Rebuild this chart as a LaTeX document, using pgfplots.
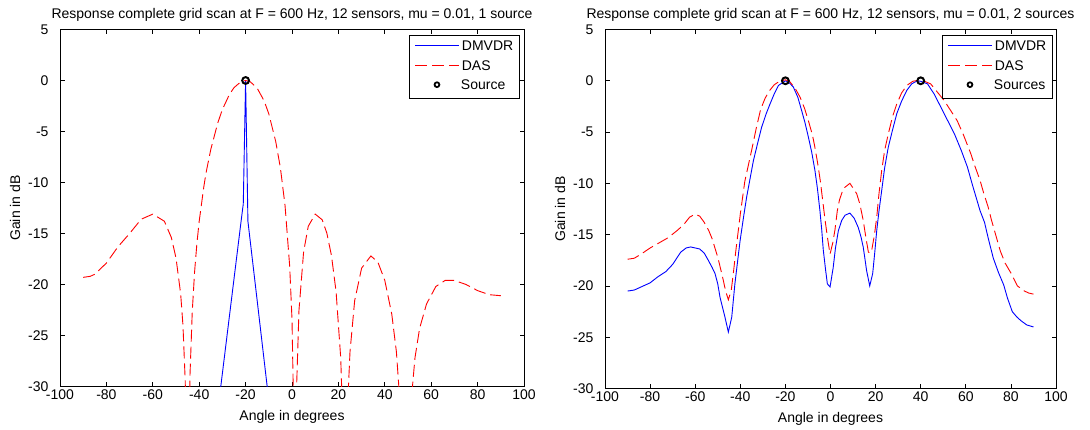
\documentclass[border=0pt]{standalone}
\usepackage{pgfplots}
\pgfplotsset{compat=1.18}
\usepackage{fontspec}
\setmainfont{Liberation Sans}
\newcommand{\fs}{\fontsize{14}{16.5}\selectfont}
\newcommand{\lgline}[2]{\tikz[baseline=-5pt]{\draw[#1] (0pt,0pt) -- (44pt,0pt);}\hspace{2pt}#2}
\newcommand{\lgmark}[1]{\tikz[baseline=-5pt]{\path (0pt,0pt) (44pt,0pt); \draw[black, line width=1.8pt] (22pt,0pt) circle (2.4pt);}\hspace{2pt}#1}

\pgfplotsset{
  matlab/.style={
    scale only axis,
    anchor=south west,
    xmin=-100,xmax=100,ymin=-30,ymax=5,
    xtick={-100,-80,...,100},
    ytick={-30,-25,...,5},
    tick align=inside,
    major tick length=4.5pt,
    axis line style={black, line width=0.7pt},
    every tick/.style={black, line width=0.7pt},
    tick label style={font=\fs, black},
    /pgf/number format/assume math mode=true,
    yticklabel style={xshift=-8pt},
    title style={font=\fs, yshift=-1pt},
    xlabel style={font=\fs, yshift=-4pt},
    ylabel style={font=\fs, yshift=1pt},
    xlabel={Angle in degrees},
    ylabel={Gain in dB},
    legend cell align=left,
    legend image code/.code={},
    legend style={at={(1,1)}, anchor=north east, yshift=-6pt,
      fill=white, font=\fs,
      inner xsep=4pt, inner ysep=2pt, row sep=0pt,
      nodes={inner xsep=1.5pt, inner ysep=3pt, text height=10pt, text depth=3.5pt}},
  },
  mvdr/.style={blue, line width=0.9pt, no marks},
  das/.style={red, line width=0.9pt, no marks, dash pattern=on 12pt off 5pt},
  src/.style={only marks, mark=o, mark size=3.4pt, black, mark options={line width=2pt, black}},
}

\pgfplotstableread{
x y
-33 -35.6
-30.7 -30
-26 -21.3
-22 -13.9
-21 -12.1
-20 0
-19 -13.8
-15 -21.6
-10.7 -30
-9 -33.3
}\lmvdr

\pgfplotstableread{
x y
-90 -19.3
-87 -19.2
-85 -19.0
-80 -17.9
-75 -16.3
-70 -15.0
-65 -13.6
-60 -13.1
-55 -13.8
-52 -15.4
-50 -17.4
-48 -20.9
-47 -24.0
-46 -29.6
-45 -60
-44 -29.1
-43 -22.7
-42 -18.8
-41 -16.0
-40 -13.8
-38 -10.4
-37 -9.0
-35 -6.75
-32 -4.16
-30 -2.84
-27 -1.38
-25 -0.70
-22 -0.12
-20 0
-18 -0.12
-15 -0.76
-12 -2.0
-10 -3.27
-7 -6.0
-5 -8.57
-3 -12.26
-1 -18.2
0 -23.4
1 -36.3
1.3 -60
2 -29.9
3 -22.55
5 -16.8
7 -14.3
10 -13.1
13 -13.65
15 -14.95
17 -17.15
19 -20.7
21 -27.2
22 -34.2
22.8 -60
24 -31.7
25 -26.6
27 -21.6
30 -18.4
34 -17.2
37 -17.8
40 -19.6
43 -22.9
45 -26.6
47 -33.1
48.9 -60
51 -32.4
53 -27.2
55 -24.3
58 -21.9
62 -20.2
66 -19.6
70 -19.6
75 -20.0
80 -20.6
85 -21.0
90 -21.1
}\ldas

\pgfplotstableread{
x y
-90 -20.5
-87 -20.4
-84 -20.1
-80 -19.7
-76.5 -19.1
-73 -18.6
-70 -17.9
-66.4 -16.7
-64 -16.3
-62 -16.2
-58 -16.4
-56 -16.8
-54.2 -17.5
-52.5 -18.2
-51.2 -18.8
-50 -19.8
-49 -21.1
-46.8 -23.05
-45.3 -24.5
-43.8 -23.05
-42.4 -19.8
-41.2 -17.6
-40.1 -15.6
-38.5 -13.2
-37.2 -11.35
-34.2 -7.8
-32 -5.8
-30.5 -4.5
-28.5 -3.2
-26.8 -2.25
-25 -1.3
-23.1 -0.46
-20 0.0
-18.3 -0.2
-16.5 -0.6
-14.5 -1.6
-12.8 -2.9
-11.3 -4.1
-9.8 -5.5
-8.3 -7.0
-6.9 -8.75
-5.8 -10.5
-4.7 -12.65
-3.9 -14.5
-3.2 -16.5
-2.2 -18.4
-1.4 -19.8
-0.2 -20.1
1.2 -18.2
2.2 -16.3
3.5 -14.6
5.0 -13.6
6.5 -13.1
8.6 -12.9
10.5 -13.4
12.3 -14.3
13.5 -15.2
14.5 -16.2
15.3 -17.4
16.0 -18.5
17.4 -20.0
18.7 -18.8
19.6 -16.8
20.5 -14.6
21.5 -12.7
22.7 -10.7
24 -8.5
25.6 -6.5
27.5 -4.8
29.4 -3.2
31.5 -2.0
33.8 -0.95
36 -0.3
38.5 0.0
40 -0.05
43 -0.3
46 -1.3
49 -2.6
52 -3.9
55 -5.2
58 -6.8
60.7 -8.4
63 -10.2
66.3 -12.65
68.3 -13.8
70 -15.4
72.2 -17.3
74.5 -18.7
76.8 -19.9
78.5 -21.2
80.6 -22.5
82.5 -23.0
84.5 -23.4
87 -23.8
90 -24.0
}\rmvdr

\pgfplotstableread{
x y
-90 -17.4
-87 -17.3
-84 -16.9
-80 -16.3
-76 -15.8
-72 -15.3
-68 -14.6
-65 -14.0
-62.5 -13.3
-60 -13.0
-58 -13.2
-56 -13.8
-54 -14.6
-52.5 -15.4
-50 -17.2
-48 -19.0
-46.5 -20.5
-45.3 -21.35
-44 -20.4
-43 -18.6
-42 -16.6
-41 -14.8
-40 -13.0
-38 -9.8
-35 -6.8
-33 -4.7
-31 -2.8
-29 -1.7
-27 -0.95
-25 -0.4
-23 -0.1
-20 0.1
-18 -0.1
-15.5 -0.8
-13.5 -1.6
-11.5 -2.7
-9.8 -3.9
-8 -5.3
-6.9 -6.5
-5.5 -8.3
-4.5 -9.8
-3.5 -11.6
-2.4 -13.6
-1.2 -15.5
-0.2 -16.9
1 -15.8
2 -14.5
3 -12.7
4 -11.6
5.7 -10.5
8.6 -10.0
11.6 -11.0
13 -12.0
14.5 -13.6
15.7 -15.3
16.8 -16.7
17.6 -16.8
18.3 -16.5
19.5 -15.0
20.5 -13.3
21.5 -11.0
22.7 -8.75
24 -6.8
25.6 -5.2
27.5 -3.5
29.4 -2.25
31.5 -1.2
33.8 -0.46
36.5 -0.05
40 0.1
44.4 -0.3
47 -1.0
50.3 -1.9
53 -2.8
56.2 -3.9
59 -5.3
62.2 -7.1
64 -8.3
66.3 -9.7
68 -11.0
69.9 -12.3
71.4 -13.6
75.3 -16.6
77.5 -17.8
79.9 -18.7
82.9 -20.0
86 -20.5
88 -20.7
90 -20.8
}\rdas

\begin{document}
\begin{tikzpicture}
\path[use as bounding box] (0pt,0pt) rectangle (1090pt,430pt);
\begin{axis}[matlab, at={(60pt,43.5pt)}, width=464pt, height=357pt,
  legend style={xshift=-5pt},
  title={Response complete grid scan at F = 600 Hz, 12 sensors, mu = 0.01, 1 source}]
\addplot[mvdr] table {\lmvdr};
\addlegendentry{\lgline{blue, line width=1pt}{DMVDR}}
\addplot[das] table {\ldas};
\addlegendentry{\lgline{red, line width=0.9pt, dash pattern=on 12pt off 5pt}{DAS}}
\addplot[src] coordinates {(-20,0)};
\addlegendentry{\lgmark{Source}}
\end{axis}
\begin{axis}[matlab, at={(605pt,41.5pt)}, width=451pt, height=359pt,
  legend style={xshift=-4pt},
  title={Response complete grid scan at F = 600 Hz, 12 sensors, mu = 0.01, 2 sources}]
\addplot[mvdr] table {\rmvdr};
\addlegendentry{\lgline{blue, line width=1pt}{DMVDR}}
\addplot[das] table {\rdas};
\addlegendentry{\lgline{red, line width=0.9pt, dash pattern=on 12pt off 5pt}{DAS}}
\addplot[src] coordinates {(-20,0) (40,0)};
\addlegendentry{\lgmark{Sources}}
\end{axis}
\end{tikzpicture}
\end{document}
